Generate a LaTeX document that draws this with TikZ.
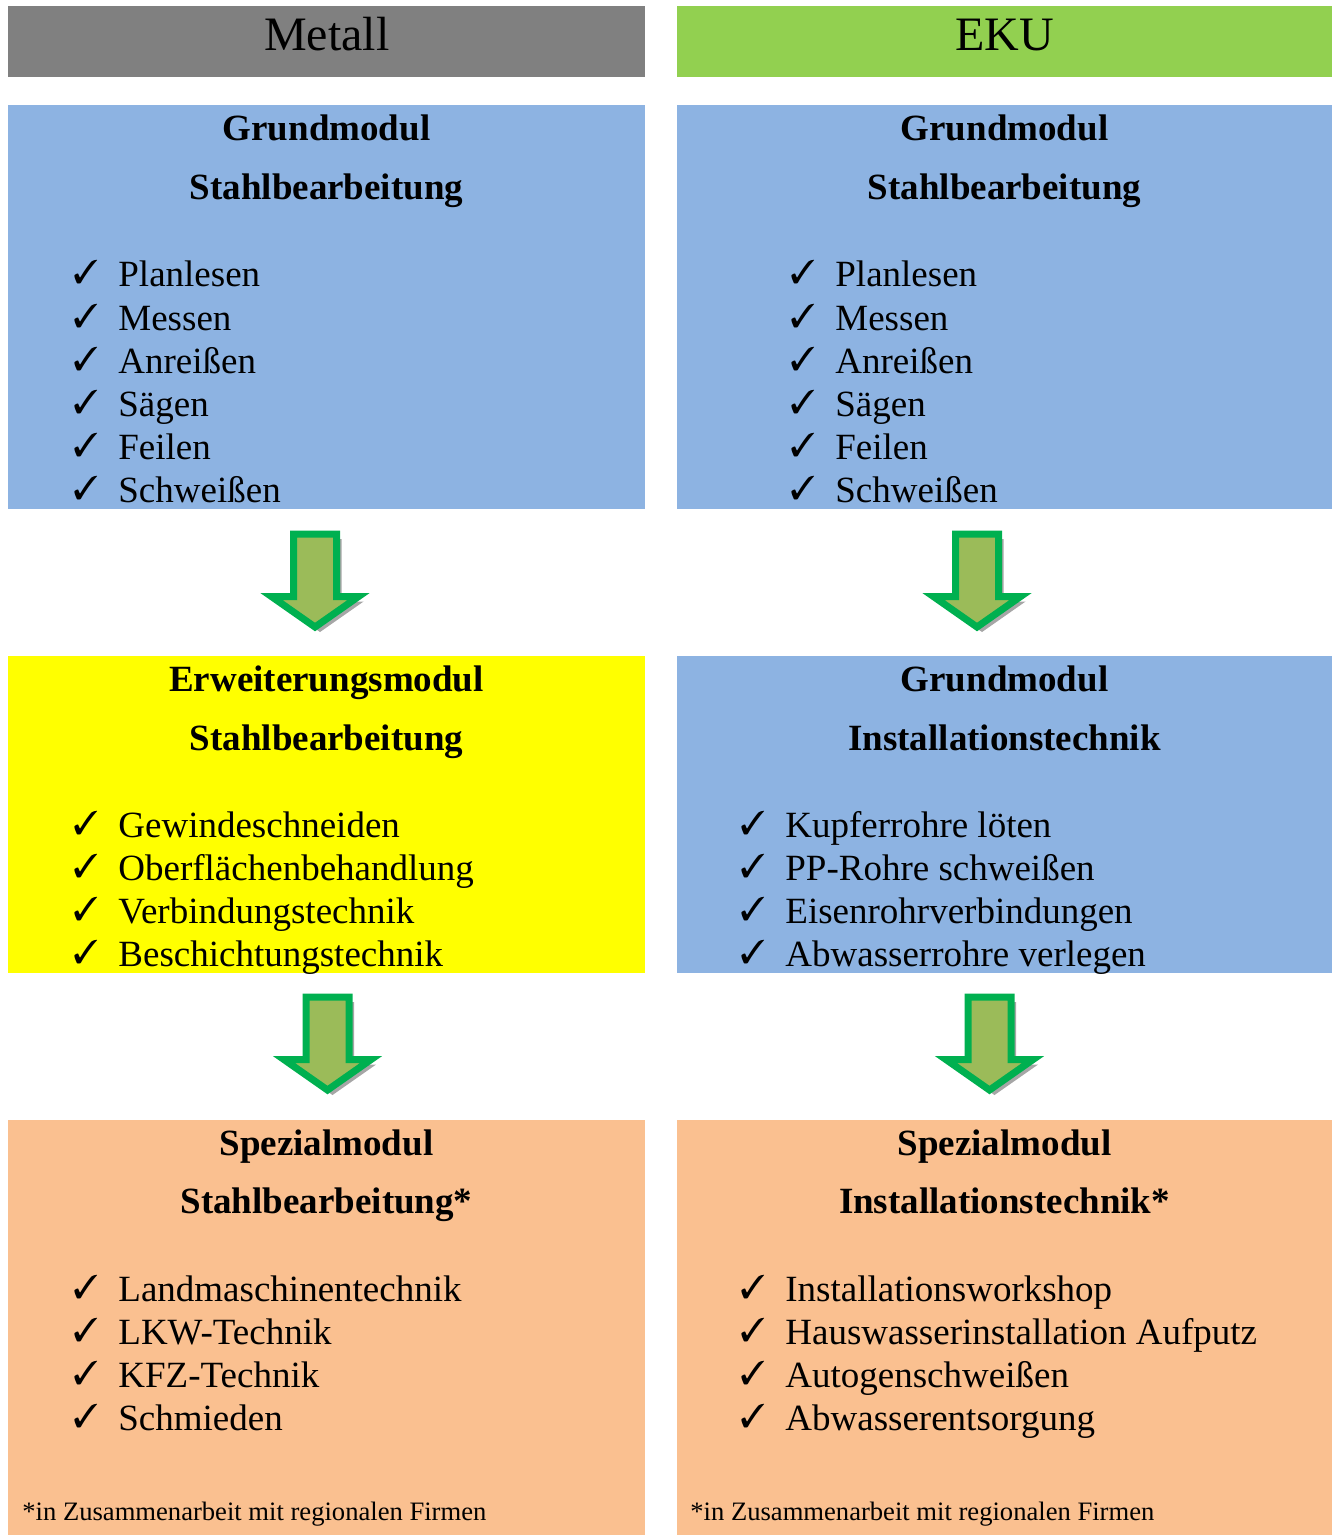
\documentclass[tikz,border=0pt]{standalone}
\usepackage{fontspec}
\setmainfont{Liberation Serif}
\usepackage{pifont}
\usetikzlibrary{shapes.arrows, shadows, positioning}
\definecolor{headGrey}{RGB}{128,128,128}
\definecolor{headGreen}{RGB}{146,208,80}
\definecolor{modBlue}{RGB}{141,179,226}
\definecolor{modYellow}{RGB}{255,255,0}
\definecolor{modOrange}{RGB}{250,192,144}
\definecolor{arrowGreen}{RGB}{0,176,80}
\definecolor{arrowOlive}{RGB}{155,187,89}
\newcommand{\chk}{\makebox[22.5pt][l]{\raisebox{1.5pt}{\fontsize{16.5}{16}\selectfont\ding{51}}}}

\begin{document}
\begin{tikzpicture}[
      x=0.5pt, y=-0.5pt,
      head/.style={rectangle, anchor=north west, inner sep=0pt,
                   minimum height=35.5pt, text height=16pt, text depth=7.5pt,
                   font=\fontsize{24}{28}\selectfont},
      modbox/.style={rectangle, anchor=north west, inner sep=0pt},
      title/.style={anchor=base, inner sep=0pt,
                    font=\bfseries\fontsize{18.5}{22}\selectfont},
      item/.style={anchor=base west, inner sep=0pt,
                   font=\fontsize{18.5}{22}\selectfont},
      note/.style={anchor=base west, inner sep=0pt,
                   font=\fontsize{13.3}{16}\selectfont},
      downarr/.style={single arrow, rotate=-90, draw=arrowGreen, fill=arrowOlive,
                      line width=3.5pt, inner xsep=0pt, inner ysep=9pt,
                      minimum height=46.5pt, minimum width=40pt,
                      single arrow head extend=11pt, single arrow tip angle=110,
                      drop shadow={shadow xshift=2.5pt, shadow yshift=-2.5pt,
                                   fill=black!35, opacity=1}}
    ]
      \useasboundingbox (0,0) rectangle (1332,1535);

      % column heads
      \node[head, fill=headGrey,  minimum width=318.5pt] (mhead) at (8,6)   {Metall};
      \node[head, fill=headGreen, minimum width=327.5pt] (ehead) at (677,6) {EKU};

      % Metall column
      \node[modbox, fill=modBlue,   minimum width=318.5pt, minimum height=202pt]   (mgrund) at (8,105)  {};
      \node[modbox, fill=modYellow, minimum width=318.5pt, minimum height=158.5pt] (merw)   at (8,656)  {};
      \node[modbox, fill=modOrange, minimum width=318.5pt, minimum height=207.5pt] (mspez)  at (8,1120) {};

      \node[title] (mgrundA) at (326.5,141) {Grundmodul};
      \node[title] (mgrundB) at (326.5,200) {Stahlbearbeitung};
      \foreach \t [count=\i] in {Planlesen, Messen, Anreißen, Sägen, Feilen, Schweißen}
        \node[item] (mg\i) at (73,{287+43*(\i-1)}) {\chk\t};

      \node[title] (merwA) at (326.5,691) {Erweiterungsmodul};
      \node[title] (merwB) at (326.5,750) {Stahlbearbeitung};
      \foreach \t [count=\i] in {Gewindeschneiden, Oberflächenbehandlung, Verbindungstechnik, Beschichtungstechnik}
        \node[item] (me\i) at (73,{837+43*(\i-1)}) {\chk\t};

      \node[title] (mspezA) at (326.5,1155) {Spezialmodul};
      \node[title] (mspezB) at (326.5,1213) {Stahlbearbeitung*};
      \foreach \t [count=\i] in {Landmaschinentechnik, LKW-Technik, KFZ-Technik, Schmieden}
        \node[item] (ms\i) at (73,{1301+43*(\i-1)}) {\chk\t};
      \node[note] (mnote) at (22,1520) {*in Zusammenarbeit mit regionalen Firmen};

      % EKU column
      \node[modbox, fill=modBlue,   minimum width=327.5pt, minimum height=202pt]   (egrund) at (677,105)  {};
      \node[modbox, fill=modBlue,   minimum width=327.5pt, minimum height=158.5pt] (einst)  at (677,656)  {};
      \node[modbox, fill=modOrange, minimum width=327.5pt, minimum height=207.5pt] (espez)  at (677,1120) {};

      \node[title] (egrundA) at (1004.5,141) {Grundmodul};
      \node[title] (egrundB) at (1004.5,200) {Stahlbearbeitung};
      \foreach \t [count=\i] in {Planlesen, Messen, Anreißen, Sägen, Feilen, Schweißen}
        \node[item] (eg\i) at (790,{287+43*(\i-1)}) {\chk\t};

      \node[title] (einstA) at (1004.5,691) {Grundmodul};
      \node[title] (einstB) at (1004.5,750) {Installationstechnik};
      \foreach \t [count=\i] in {Kupferrohre löten, PP-Rohre schweißen, Eisenrohrverbindungen, Abwasserrohre verlegen}
        \node[item] (ei\i) at (740,{837+43*(\i-1)}) {\chk\t};

      \node[title] (espezA) at (1004.5,1155) {Spezialmodul};
      \node[title] (espezB) at (1004.5,1213) {Installationstechnik*};
      \foreach \t [count=\i] in {Installationsworkshop, Hauswasserinstallation Aufputz, Autogenschweißen, Abwasserentsorgung}
        \node[item] (es\i) at (740,{1301+43*(\i-1)}) {\chk\t};
      \node[note] (enote) at (690,1520) {*in Zusammenarbeit mit regionalen Firmen};

      % block arrows
      \node[downarr] (marr1) at (315,573)    {};
      \node[downarr] (earr1) at (977,573)    {};
      \node[downarr] (marr2) at (327.5,1036) {};
      \node[downarr] (earr2) at (989.5,1036) {};
    \end{tikzpicture}
\end{document}
